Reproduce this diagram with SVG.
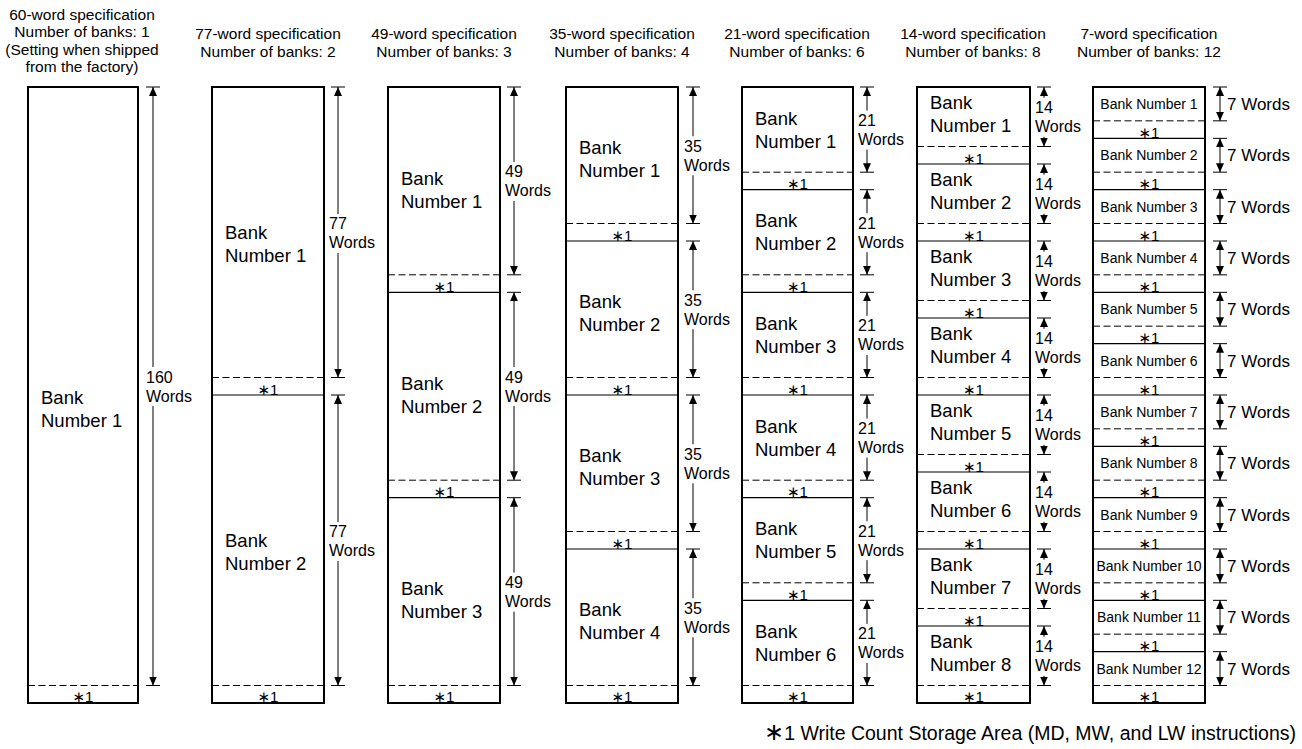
<svg xmlns="http://www.w3.org/2000/svg" width="1302" height="749" viewBox="0 0 1302 749">
  <defs>
    <style>
      text { font-family: "Liberation Sans", Arial, "DejaVu Sans", sans-serif; fill: #000; }
      .hd { font-size: 15.5px; text-anchor: middle; }
      .bk { font-size: 18.5px; }
      .wd { font-size: 16px; }
      .ast { font-size: 15px; text-anchor: middle; }
      .sb { font-size: 14px; text-anchor: middle; }
      .w7 { font-size: 17px; }
      .note { font-size: 19.5px; text-anchor: end; }
      .box { fill: #fff; stroke: #000; stroke-width: 2; }
      .sep { fill: none; stroke: #000; stroke-width: 1.2; }
      .dash { fill: none; stroke: #000; stroke-width: 1; stroke-dasharray: 7 3.5; }
      .dim { fill: none; stroke: #000; stroke-width: 1; }
      .up { marker-start: url(#ah); }
      .dn { marker-end: url(#ah); }
      .both { marker-start: url(#ah); marker-end: url(#ah); }
    </style>
    <marker id="ah" viewBox="0 0 9 8" refX="9" refY="4" markerWidth="9" markerHeight="8" markerUnits="userSpaceOnUse" orient="auto-start-reverse">
      <path d="M0,0 L9,4 L0,8 z" fill="#000"/>
    </marker>
  </defs>

  <rect width="1302" height="749" fill="#fff"/>

  <!-- column headers -->
  <g id="headers">
    <text class="hd" x="82" y="19.5">60-word specification</text>
    <text class="hd" x="82" y="37">Number of banks: 1</text>
    <text class="hd" x="82" y="54.5">(Setting when shipped</text>
    <text class="hd" x="82" y="72">from the factory)</text>
    <text class="hd" x="268" y="39">77-word specification</text>
    <text class="hd" x="268" y="56.5">Number of banks: 2</text>
    <text class="hd" x="444" y="39">49-word specification</text>
    <text class="hd" x="444" y="56.5">Number of banks: 3</text>
    <text class="hd" x="622" y="39">35-word specification</text>
    <text class="hd" x="622" y="56.5">Number of banks: 4</text>
    <text class="hd" x="797" y="39">21-word specification</text>
    <text class="hd" x="797" y="56.5">Number of banks: 6</text>
    <text class="hd" x="973" y="39">14-word specification</text>
    <text class="hd" x="973" y="56.5">Number of banks: 8</text>
    <text class="hd" x="1149" y="39">7-word specification</text>
    <text class="hd" x="1149" y="56.5">Number of banks: 12</text>
  </g>

  <!-- 60-word specification, 1 bank -->
  <g id="col-60">
    <rect class="box" x="28" y="87" width="110" height="616"/>
    <path class="dash" d="M28,685.5H138"/>
    <g id="c60-bank1">
      <text class="bk" x="41" y="404">Bank</text>
      <text class="bk" x="41" y="427">Number 1</text>
      <text class="ast" x="83" y="702">∗1</text>
    </g>
  </g>

  <!-- 77-word specification, 2 banks -->
  <g id="col-77">
    <rect class="box" x="212" y="87" width="112" height="616"/>
    <path class="dash" d="M212,377.5H324M212,685.5H324"/>
    <path class="sep" d="M212,395H324"/>
    <g id="c77-bank1">
      <text class="bk" x="225" y="239">Bank</text>
      <text class="bk" x="225" y="262">Number 1</text>
      <text class="ast" x="268" y="394.5">∗1</text>
    </g>
    <g id="c77-bank2">
      <text class="bk" x="225" y="547">Bank</text>
      <text class="bk" x="225" y="570">Number 2</text>
      <text class="ast" x="268" y="702">∗1</text>
    </g>
  </g>

  <!-- 49-word specification, 3 banks -->
  <g id="col-49">
    <rect class="box" x="388" y="87" width="112" height="616"/>
    <path class="dash" d="M388,274.8H500M388,480.2H500M388,685.5H500"/>
    <path class="sep" d="M388,292.3H500M388,497.7H500"/>
    <g id="c49-bank1">
      <text class="bk" x="401" y="185">Bank</text>
      <text class="bk" x="401" y="208">Number 1</text>
      <text class="ast" x="444" y="291.8">∗1</text>
    </g>
    <g id="c49-bank2">
      <text class="bk" x="401" y="390">Bank</text>
      <text class="bk" x="401" y="413">Number 2</text>
      <text class="ast" x="444" y="497.2">∗1</text>
    </g>
    <g id="c49-bank3">
      <text class="bk" x="401" y="595">Bank</text>
      <text class="bk" x="401" y="618">Number 3</text>
      <text class="ast" x="444" y="702">∗1</text>
    </g>
  </g>

  <!-- 35-word specification, 4 banks -->
  <g id="col-35">
    <rect class="box" x="566" y="87" width="112" height="616"/>
    <path class="dash" d="M566,223.5H678M566,377.5H678M566,531.5H678M566,685.5H678"/>
    <path class="sep" d="M566,241H678M566,395H678M566,549H678"/>
    <g id="c35-bank1">
      <text class="bk" x="579" y="154">Bank</text>
      <text class="bk" x="579" y="177">Number 1</text>
      <text class="ast" x="622" y="240.5">∗1</text>
    </g>
    <g id="c35-bank2">
      <text class="bk" x="579" y="308">Bank</text>
      <text class="bk" x="579" y="331">Number 2</text>
      <text class="ast" x="622" y="394.5">∗1</text>
    </g>
    <g id="c35-bank3">
      <text class="bk" x="579" y="462">Bank</text>
      <text class="bk" x="579" y="485">Number 3</text>
      <text class="ast" x="622" y="548.5">∗1</text>
    </g>
    <g id="c35-bank4">
      <text class="bk" x="579" y="616">Bank</text>
      <text class="bk" x="579" y="639">Number 4</text>
      <text class="ast" x="622" y="702">∗1</text>
    </g>
  </g>

  <!-- 21-word specification, 6 banks -->
  <g id="col-21">
    <rect class="box" x="742" y="87" width="111" height="616"/>
    <path class="dash" d="M742,172.2H853M742,274.8H853M742,377.5H853M742,480.2H853M742,582.8H853M742,685.5H853"/>
    <path class="sep" d="M742,189.7H853M742,292.3H853M742,395H853M742,497.7H853M742,600.3H853"/>
    <g id="c21-bank1">
      <text class="bk" x="755" y="124.6">Bank</text>
      <text class="bk" x="755" y="147.6">Number 1</text>
      <text class="ast" x="797.5" y="189.2">∗1</text>
    </g>
    <g id="c21-bank2">
      <text class="bk" x="755" y="227.2">Bank</text>
      <text class="bk" x="755" y="250.2">Number 2</text>
      <text class="ast" x="797.5" y="291.8">∗1</text>
    </g>
    <g id="c21-bank3">
      <text class="bk" x="755" y="329.9">Bank</text>
      <text class="bk" x="755" y="352.9">Number 3</text>
      <text class="ast" x="797.5" y="394.5">∗1</text>
    </g>
    <g id="c21-bank4">
      <text class="bk" x="755" y="432.6">Bank</text>
      <text class="bk" x="755" y="455.6">Number 4</text>
      <text class="ast" x="797.5" y="497.2">∗1</text>
    </g>
    <g id="c21-bank5">
      <text class="bk" x="755" y="535.2">Bank</text>
      <text class="bk" x="755" y="558.2">Number 5</text>
      <text class="ast" x="797.5" y="599.8">∗1</text>
    </g>
    <g id="c21-bank6">
      <text class="bk" x="755" y="637.9">Bank</text>
      <text class="bk" x="755" y="660.9">Number 6</text>
      <text class="ast" x="797.5" y="702">∗1</text>
    </g>
  </g>

  <!-- 14-word specification, 8 banks -->
  <g id="col-14">
    <rect class="box" x="917" y="87" width="113" height="616"/>
    <path class="dash" d="M917,146.5H1030M917,223.5H1030M917,300.5H1030M917,377.5H1030M917,454.5H1030M917,531.5H1030M917,608.5H1030M917,685.5H1030"/>
    <path class="sep" d="M917,164H1030M917,241H1030M917,318H1030M917,395H1030M917,472H1030M917,549H1030M917,626H1030"/>
    <g id="c14-bank1">
      <text class="bk" x="930" y="109.25">Bank</text>
      <text class="bk" x="930" y="132.25">Number 1</text>
      <text class="ast" x="973.5" y="163.5">∗1</text>
    </g>
    <g id="c14-bank2">
      <text class="bk" x="930" y="186.25">Bank</text>
      <text class="bk" x="930" y="209.25">Number 2</text>
      <text class="ast" x="973.5" y="240.5">∗1</text>
    </g>
    <g id="c14-bank3">
      <text class="bk" x="930" y="263.25">Bank</text>
      <text class="bk" x="930" y="286.25">Number 3</text>
      <text class="ast" x="973.5" y="317.5">∗1</text>
    </g>
    <g id="c14-bank4">
      <text class="bk" x="930" y="340.25">Bank</text>
      <text class="bk" x="930" y="363.25">Number 4</text>
      <text class="ast" x="973.5" y="394.5">∗1</text>
    </g>
    <g id="c14-bank5">
      <text class="bk" x="930" y="417.25">Bank</text>
      <text class="bk" x="930" y="440.25">Number 5</text>
      <text class="ast" x="973.5" y="471.5">∗1</text>
    </g>
    <g id="c14-bank6">
      <text class="bk" x="930" y="494.25">Bank</text>
      <text class="bk" x="930" y="517.25">Number 6</text>
      <text class="ast" x="973.5" y="548.5">∗1</text>
    </g>
    <g id="c14-bank7">
      <text class="bk" x="930" y="571.25">Bank</text>
      <text class="bk" x="930" y="594.25">Number 7</text>
      <text class="ast" x="973.5" y="625.5">∗1</text>
    </g>
    <g id="c14-bank8">
      <text class="bk" x="930" y="648.25">Bank</text>
      <text class="bk" x="930" y="671.25">Number 8</text>
      <text class="ast" x="973.5" y="702">∗1</text>
    </g>
  </g>

  <!-- 7-word specification, 12 banks -->
  <g id="col-7">
    <rect class="box" x="1093" y="87" width="112" height="616"/>
    <path class="dash" d="M1093,120.83H1205M1093,172.17H1205M1093,223.5H1205M1093,274.83H1205M1093,326.17H1205M1093,377.5H1205M1093,428.83H1205M1093,480.17H1205M1093,531.5H1205M1093,582.83H1205M1093,634.17H1205M1093,685.5H1205"/>
    <path class="sep" d="M1093,138.33H1205M1093,189.67H1205M1093,241H1205M1093,292.33H1205M1093,343.67H1205M1093,395H1205M1093,446.33H1205M1093,497.67H1205M1093,549H1205M1093,600.33H1205M1093,651.67H1205"/>
    <g id="c7-bank1"><text class="sb" x="1149" y="108.9">Bank Number 1</text><text class="ast" x="1149" y="137.8">∗1</text></g>
    <g id="c7-bank2"><text class="sb" x="1149" y="160.25">Bank Number 2</text><text class="ast" x="1149" y="189.2">∗1</text></g>
    <g id="c7-bank3"><text class="sb" x="1149" y="211.6">Bank Number 3</text><text class="ast" x="1149" y="240.5">∗1</text></g>
    <g id="c7-bank4"><text class="sb" x="1149" y="262.9">Bank Number 4</text><text class="ast" x="1149" y="291.8">∗1</text></g>
    <g id="c7-bank5"><text class="sb" x="1149" y="314.25">Bank Number 5</text><text class="ast" x="1149" y="343.2">∗1</text></g>
    <g id="c7-bank6"><text class="sb" x="1149" y="365.6">Bank Number 6</text><text class="ast" x="1149" y="394.5">∗1</text></g>
    <g id="c7-bank7"><text class="sb" x="1149" y="416.9">Bank Number 7</text><text class="ast" x="1149" y="445.8">∗1</text></g>
    <g id="c7-bank8"><text class="sb" x="1149" y="468.25">Bank Number 8</text><text class="ast" x="1149" y="497.2">∗1</text></g>
    <g id="c7-bank9"><text class="sb" x="1149" y="519.6">Bank Number 9</text><text class="ast" x="1149" y="548.5">∗1</text></g>
    <g id="c7-bank10"><text class="sb" x="1149" y="570.9">Bank Number 10</text><text class="ast" x="1149" y="599.8">∗1</text></g>
    <g id="c7-bank11"><text class="sb" x="1149" y="622.25">Bank Number 11</text><text class="ast" x="1149" y="651.2">∗1</text></g>
    <g id="c7-bank12"><text class="sb" x="1149" y="673.6">Bank Number 12</text><text class="ast" x="1149" y="702">∗1</text></g>
  </g>

  <!-- size dimensions: tick lines, double arrows and word counts -->
  <g id="connectors">
    <!-- 60-word -->
    <path class="dim" d="M146,87H160M146,685.5H160"/>
    <path class="dim up" d="M153,87V367"/>
    <path class="dim dn" d="M153,406V685.5"/>
    <text class="wd" x="146" y="382.75">160</text>
    <text class="wd" x="146" y="401.75">Words</text>

    <!-- 77-word -->
    <path class="dim" d="M331,87H345M331,377.5H345M331,395H345M331,685.5H345"/>
    <path class="dim up" d="M338,87V214"/>
    <path class="dim dn" d="M338,253V377.5"/>
    <path class="dim up" d="M338,395V522"/>
    <path class="dim dn" d="M338,561V685.5"/>
    <text class="wd" x="329" y="229">77</text>
    <text class="wd" x="329" y="248">Words</text>
    <text class="wd" x="329" y="537">77</text>
    <text class="wd" x="329" y="556">Words</text>

    <!-- 49-word -->
    <path class="dim" d="M507,87H521M507,274.8H521M507,292.3H521M507,480.2H521M507,497.7H521M507,685.5H521"/>
    <path class="dim up" d="M514,87V162"/>
    <path class="dim dn" d="M514,201V274.8"/>
    <path class="dim up" d="M514,292.3V367"/>
    <path class="dim dn" d="M514,406V480.2"/>
    <path class="dim up" d="M514,497.7V572.6"/>
    <path class="dim dn" d="M514,611.6V685.5"/>
    <text class="wd" x="505" y="177.4">49</text>
    <text class="wd" x="505" y="196.4">Words</text>
    <text class="wd" x="505" y="382.7">49</text>
    <text class="wd" x="505" y="401.7">Words</text>
    <text class="wd" x="505" y="588.1">49</text>
    <text class="wd" x="505" y="607.1">Words</text>

    <!-- 35-word -->
    <path class="dim" d="M686,87H700M686,223.5H700M686,241H700M686,377.5H700M686,395H700M686,531.5H700M686,549H700M686,685.5H700"/>
    <path class="dim up" d="M693,87V136.25"/>
    <path class="dim dn" d="M693,175.25V223.5"/>
    <path class="dim up" d="M693,241V290.25"/>
    <path class="dim dn" d="M693,329.25V377.5"/>
    <path class="dim up" d="M693,395V444.25"/>
    <path class="dim dn" d="M693,483.25V531.5"/>
    <path class="dim up" d="M693,549V598.25"/>
    <path class="dim dn" d="M693,637.25V685.5"/>
    <text class="wd" x="684" y="151.75">35</text>
    <text class="wd" x="684" y="170.75">Words</text>
    <text class="wd" x="684" y="305.75">35</text>
    <text class="wd" x="684" y="324.75">Words</text>
    <text class="wd" x="684" y="459.75">35</text>
    <text class="wd" x="684" y="478.75">Words</text>
    <text class="wd" x="684" y="613.75">35</text>
    <text class="wd" x="684" y="632.75">Words</text>

    <!-- 21-word -->
    <path class="dim" d="M860,87H874M860,172.2H874M860,189.7H874M860,274.8H874M860,292.3H874M860,377.5H874M860,395H874M860,480.2H874M860,497.7H874M860,582.8H874M860,600.3H874M860,685.5H874"/>
    <path class="dim up" d="M867,87V110.6"/>
    <path class="dim dn" d="M867,149.6V172.2"/>
    <path class="dim up" d="M867,189.7V213.2"/>
    <path class="dim dn" d="M867,252.2V274.8"/>
    <path class="dim up" d="M867,292.3V315.9"/>
    <path class="dim dn" d="M867,354.9V377.5"/>
    <path class="dim up" d="M867,395V418.6"/>
    <path class="dim dn" d="M867,457.6V480.2"/>
    <path class="dim up" d="M867,497.7V521.2"/>
    <path class="dim dn" d="M867,560.2V582.8"/>
    <path class="dim up" d="M867,600.3V623.9"/>
    <path class="dim dn" d="M867,662.9V685.5"/>
    <text class="wd" x="858" y="126.1">21</text>
    <text class="wd" x="858" y="145.1">Words</text>
    <text class="wd" x="858" y="228.7">21</text>
    <text class="wd" x="858" y="247.7">Words</text>
    <text class="wd" x="858" y="331.4">21</text>
    <text class="wd" x="858" y="350.4">Words</text>
    <text class="wd" x="858" y="434.1">21</text>
    <text class="wd" x="858" y="453.1">Words</text>
    <text class="wd" x="858" y="536.7">21</text>
    <text class="wd" x="858" y="555.7">Words</text>
    <text class="wd" x="858" y="639.4">21</text>
    <text class="wd" x="858" y="658.4">Words</text>

    <!-- 14-word -->
    <path class="dim" d="M1037,87H1051M1037,146.5H1051M1037,164H1051M1037,223.5H1051M1037,241H1051M1037,300.5H1051M1037,318H1051M1037,377.5H1051M1037,395H1051M1037,454.5H1051M1037,472H1051M1037,531.5H1051M1037,549H1051M1037,608.5H1051M1037,626H1051M1037,685.5H1051"/>
    <path class="dim up" d="M1044,87V97.75"/>
    <path class="dim dn" d="M1044,136.75V146.5"/>
    <path class="dim up" d="M1044,164V174.75"/>
    <path class="dim dn" d="M1044,213.75V223.5"/>
    <path class="dim up" d="M1044,241V251.75"/>
    <path class="dim dn" d="M1044,290.75V300.5"/>
    <path class="dim up" d="M1044,318V328.75"/>
    <path class="dim dn" d="M1044,367.75V377.5"/>
    <path class="dim up" d="M1044,395V405.75"/>
    <path class="dim dn" d="M1044,444.75V454.5"/>
    <path class="dim up" d="M1044,472V482.75"/>
    <path class="dim dn" d="M1044,521.75V531.5"/>
    <path class="dim up" d="M1044,549V559.75"/>
    <path class="dim dn" d="M1044,598.75V608.5"/>
    <path class="dim up" d="M1044,626V636.75"/>
    <path class="dim dn" d="M1044,675.75V685.5"/>
    <text class="wd" x="1035" y="113.25">14</text>
    <text class="wd" x="1035" y="132.25">Words</text>
    <text class="wd" x="1035" y="190.25">14</text>
    <text class="wd" x="1035" y="209.25">Words</text>
    <text class="wd" x="1035" y="267.25">14</text>
    <text class="wd" x="1035" y="286.25">Words</text>
    <text class="wd" x="1035" y="344.25">14</text>
    <text class="wd" x="1035" y="363.25">Words</text>
    <text class="wd" x="1035" y="421.25">14</text>
    <text class="wd" x="1035" y="440.25">Words</text>
    <text class="wd" x="1035" y="498.25">14</text>
    <text class="wd" x="1035" y="517.25">Words</text>
    <text class="wd" x="1035" y="575.25">14</text>
    <text class="wd" x="1035" y="594.25">Words</text>
    <text class="wd" x="1035" y="652.25">14</text>
    <text class="wd" x="1035" y="671.25">Words</text>

    <!-- 7-word -->
    <path class="dim" d="M1213,87H1227M1213,120.83H1227M1213,138.33H1227M1213,172.17H1227M1213,189.67H1227M1213,223.5H1227M1213,241H1227M1213,274.83H1227M1213,292.33H1227M1213,326.17H1227M1213,343.67H1227M1213,377.5H1227M1213,395H1227M1213,428.83H1227M1213,446.33H1227M1213,480.17H1227M1213,497.67H1227M1213,531.5H1227M1213,549H1227M1213,582.83H1227M1213,600.33H1227M1213,634.17H1227M1213,651.67H1227M1213,685.5H1227"/>
    <path class="dim both" d="M1220,87V120.83"/>
    <path class="dim both" d="M1220,138.33V172.17"/>
    <path class="dim both" d="M1220,189.67V223.5"/>
    <path class="dim both" d="M1220,241V274.83"/>
    <path class="dim both" d="M1220,292.33V326.17"/>
    <path class="dim both" d="M1220,343.67V377.5"/>
    <path class="dim both" d="M1220,395V428.83"/>
    <path class="dim both" d="M1220,446.33V480.17"/>
    <path class="dim both" d="M1220,497.67V531.5"/>
    <path class="dim both" d="M1220,549V582.83"/>
    <path class="dim both" d="M1220,600.33V634.17"/>
    <path class="dim both" d="M1220,651.67V685.5"/>
    <text class="w7" x="1227" y="109.9">7 Words</text>
    <text class="w7" x="1227" y="161.25">7 Words</text>
    <text class="w7" x="1227" y="212.6">7 Words</text>
    <text class="w7" x="1227" y="263.9">7 Words</text>
    <text class="w7" x="1227" y="315.25">7 Words</text>
    <text class="w7" x="1227" y="366.6">7 Words</text>
    <text class="w7" x="1227" y="417.9">7 Words</text>
    <text class="w7" x="1227" y="469.25">7 Words</text>
    <text class="w7" x="1227" y="520.6">7 Words</text>
    <text class="w7" x="1227" y="571.9">7 Words</text>
    <text class="w7" x="1227" y="623.25">7 Words</text>
    <text class="w7" x="1227" y="674.6">7 Words</text>
  </g>

  <!-- footnote -->
  <text class="note" x="1296" y="740"><tspan font-size="24">∗</tspan>1 Write Count Storage Area (MD, MW, and LW instructions)</text>
</svg>
